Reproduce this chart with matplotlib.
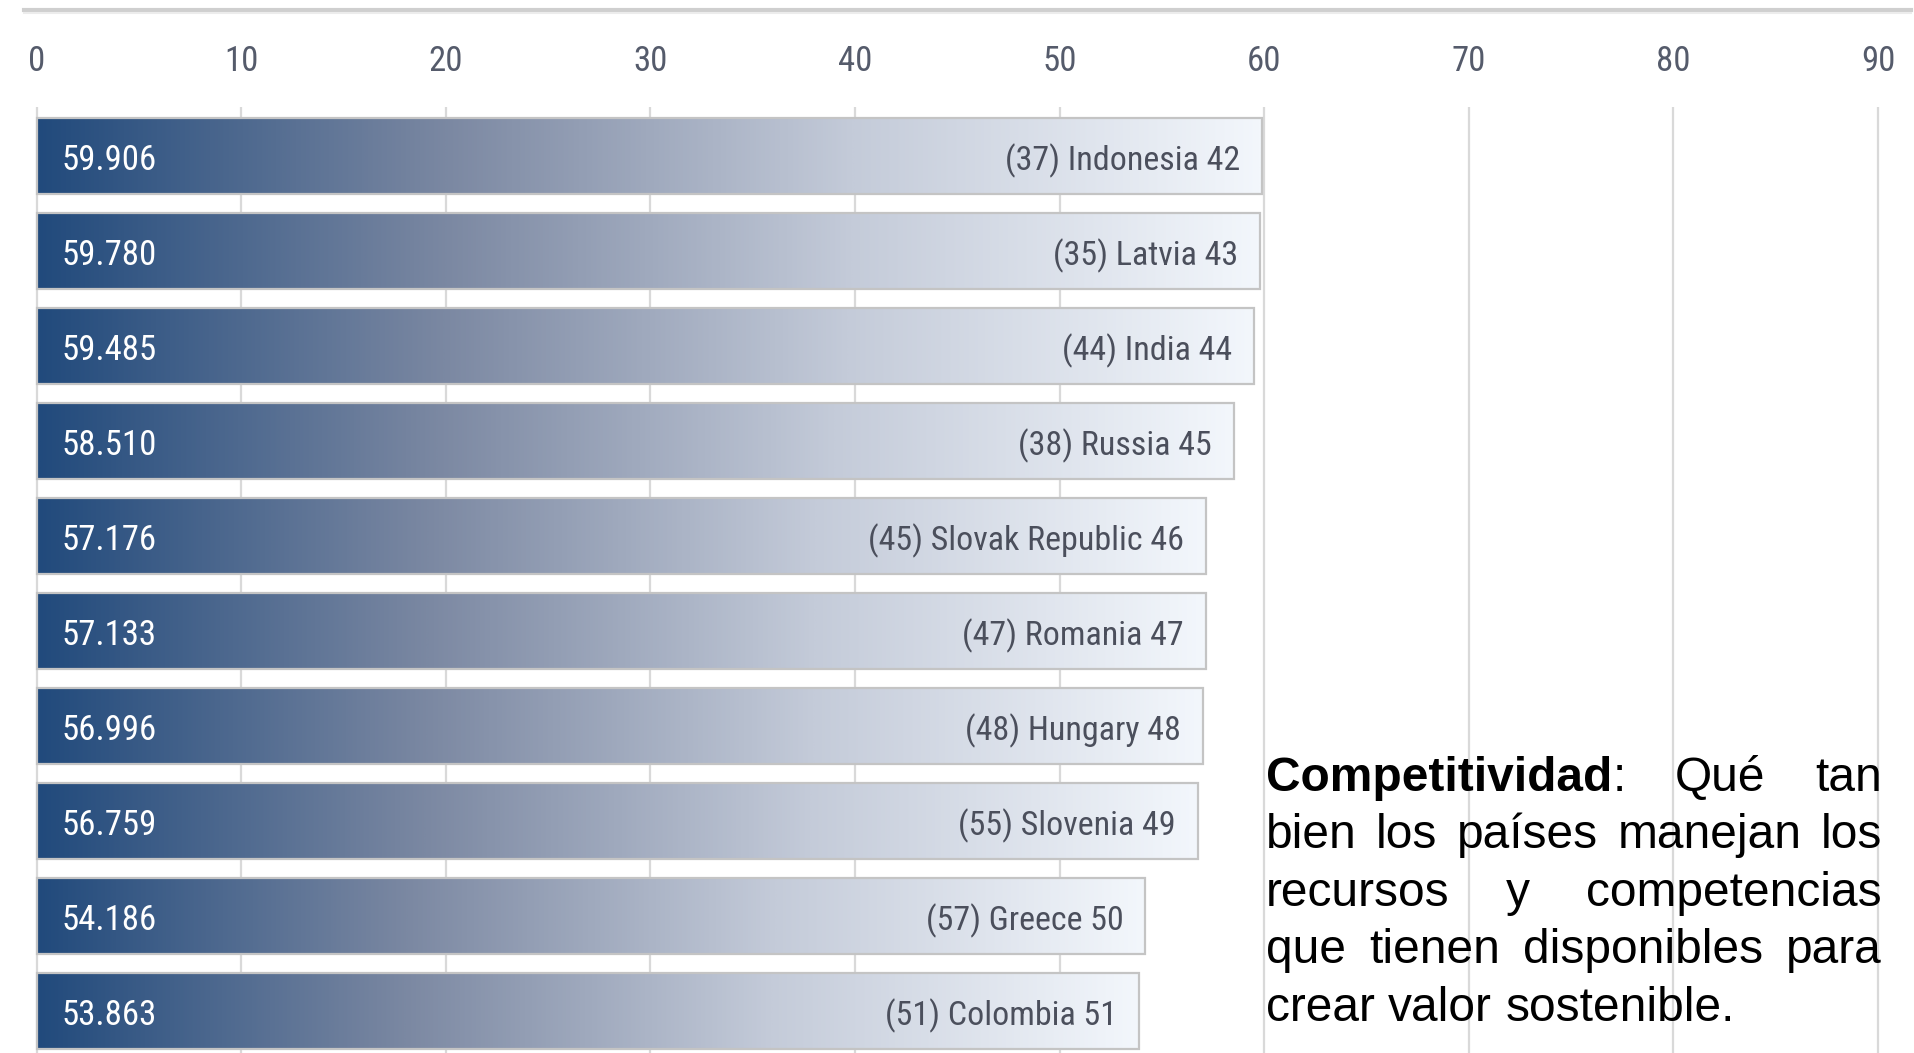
import matplotlib
matplotlib.use("Agg")
import matplotlib.pyplot as plt
import numpy as np
from matplotlib.colors import LinearSegmentedColormap
from matplotlib.lines import Line2D

# ---- data -------------------------------------------------------------
countries = ["Indonesia", "Latvia", "India", "Russia", "Slovak Republic",
             "Romania", "Hungary", "Slovenia", "Greece", "Colombia"]
prev_ranks = [37, 35, 44, 38, 45, 47, 48, 55, 57, 51]
ranks = [42, 43, 44, 45, 46, 47, 48, 49, 50, 51]
scores = [59.906, 59.780, 59.485, 58.510, 57.176, 57.133, 56.996, 56.759,
          54.186, 53.863]
x_ticks = [0, 10, 20, 30, 40, 50, 60, 70, 80, 90]

note_term = "Competitividad"
note_lines = [
    "Competitividad: Qué tan",
    "bien los países manejan los",
    "recursos y competencias",
    "que tienen disponibles para",
    "crear valor sostenible.",
]

# ---- styling ----------------------------------------------------------
W, H = 1915, 1053
NARROW = ["Roboto Condensed", "Lato", "DejaVu Sans"]
SANS = ["Liberation Sans", "DejaVu Sans"]
navy_cmap = LinearSegmentedColormap.from_list(
    "navy_fade", ["#214a7c", "#7b88a2", "#c4cbd9", "#f3f7fc"])

fig = plt.figure(figsize=(W / 100, H / 100), dpi=100)
fig.patch.set_facecolor("white")

ax_top_px = 107
ax = fig.add_axes([0, 0, 1, 1 - ax_top_px / H])

# scale: value 0 at 36.6 px, 20.46 px per unit; rows 95 px apart, first centred at 156 px
x0_px, px_per_unit = 36.6, 20.46
row0_px, row_px = 156, 95
ax.set_xlim(-x0_px / px_per_unit, (W - x0_px) / px_per_unit)
ylim = ((H - row0_px) / row_px, (ax_top_px - row0_px) / row_px)

rows = np.arange(len(scores))
bar_h = 0.8
bars = ax.barh(rows, scores, height=bar_h, facecolor="none",
               edgecolor="#c4c4c4", linewidth=1.6, zorder=4)

gradient = np.linspace(0, 1, 512).reshape(1, -1)
for bar, r, v in zip(bars, rows, scores):
    im = ax.imshow(gradient, cmap=navy_cmap, aspect="auto",
                   extent=(0, v, r + bar_h / 2, r - bar_h / 2),
                   interpolation="bilinear", zorder=3)
    im.set_clip_path(bar)

ax.set_ylim(*ylim)

for r, v, c, p, k in zip(rows, scores, countries, prev_ranks, ranks):
    ax.annotate(f"{v:.3f}", xy=(0, r), xytext=(18, -9.8),
                textcoords="offset points", ha="left", va="baseline",
                color="white", fontsize=25, family=NARROW, zorder=5)
    ax.annotate(f"({p}) {c} {k}", xy=(v, r), xytext=(-15.8, -10.0),
                textcoords="offset points", ha="right", va="baseline",
                color="#4b4f5c", fontsize=24.5, family=NARROW, zorder=5)

ax.set_xticks(x_ticks)
ax.set_xticklabels([str(t) for t in x_ticks], family=NARROW)
ax.set_yticks([])
ax.xaxis.tick_top()
ax.tick_params(axis="x", top=True, bottom=False, labeltop=True,
               labelbottom=False, length=0, pad=21, labelsize=25,
               labelcolor="#555b6b")
ax.grid(axis="x", color="#d9d9d9", linewidth=1.6, zorder=0)
ax.set_axisbelow(True)
for s in ax.spines.values():
    s.set_visible(False)

# rule across the top
fig.add_artist(Line2D([24 / W, 1911 / W], [1 - 10 / H] * 2,
                      color="#cfcfcf", linewidth=3))
fig.add_artist(Line2D([24 / W, 1911 / W], [1 - 13 / H] * 2,
                      color="#ececec", linewidth=1.5))

# ---- justified note ---------------------------------------------------
note_left, note_right = 1266, 1882
first_baseline, line_step = 791, 57.4
note_size = 34.5
renderer = fig.canvas.get_renderer()


def word_pieces(word):
    if word.startswith(note_term):
        return [(note_term, "bold"), (word[len(note_term):], "normal")]
    return [(word, "normal")]


def piece_width(text, weight):
    if not text:
        return 0.0
    t = fig.text(0, 0, text, fontsize=note_size, family=SANS, fontweight=weight)
    w = t.get_window_extent(renderer).width
    t.remove()
    return w


space_w = piece_width("a a", "normal") - 2 * piece_width("a", "normal")

for li, line in enumerate(note_lines):
    words = line.split(" ")
    widths = [sum(piece_width(tx, wt) for tx, wt in word_pieces(w)) for w in words]
    last = li == len(note_lines) - 1
    if last or len(words) == 1:
        gap = space_w
    else:
        gap = (note_right - note_left - sum(widths)) / (len(words) - 1)
    y_px = first_baseline + li * line_step
    x_px = note_left
    for w, ww in zip(words, widths):
        px = x_px
        for tx, wt in word_pieces(w):
            if tx:
                fig.text(px / W, 1 - y_px / H, tx, fontsize=note_size,
                         family=SANS, fontweight=wt, color="black",
                         ha="left", va="baseline")
                px += piece_width(tx, wt)
        x_px += ww + gap

fig.savefig("out.png", dpi=100, facecolor="white")
